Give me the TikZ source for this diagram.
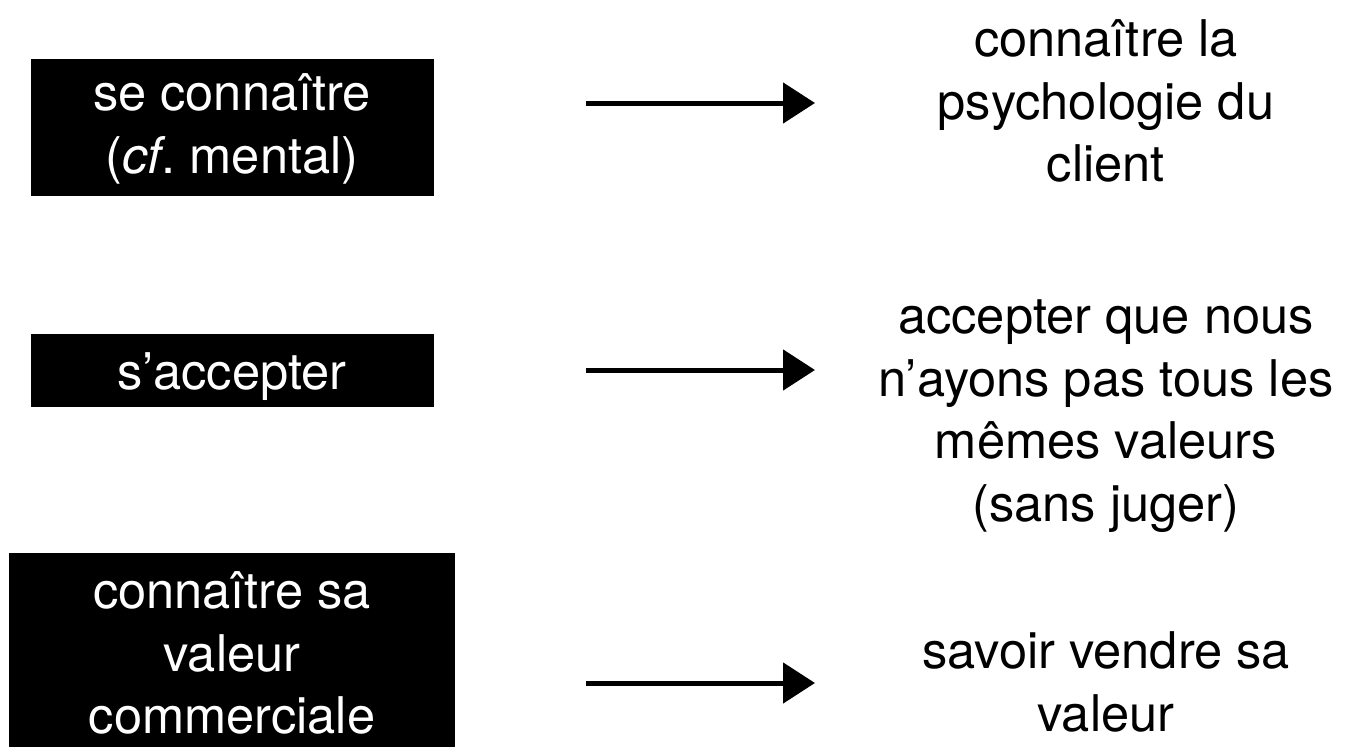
\documentclass[tikz,border=0pt]{standalone}
\usepackage{fontspec}
\setmainfont{TeX Gyre Heros}
\usetikzlibrary{shapes,arrows.meta,fit}

\begin{document}
\frenchspacing
\begin{tikzpicture}[x=0.02cm, y=-0.02cm, font=\fontsize{28.8pt}{35.6pt}\selectfont]
\tikzstyle{darkbox} = [fill=black, draw=none, inner sep=0pt]
\tikzstyle{boxtext} = [text=white, align=center, inner sep=0pt]
\tikzstyle{plaintext} = [text=black, align=center, inner sep=0pt]
\tikzstyle{flow} = [-{Triangle[length=0.64cm, width=0.8cm]}, line width=0.1cm]
\useasboundingbox (0,0) rectangle (1363,747);

\node [darkbox, fit={(31,59) (434,196)}] (b1) {};
\node [darkbox, fit={(31,334) (434,407)}] (b2) {};
\node [darkbox, fit={(9,553) (455,747)}] (b3) {};

\node [boxtext] (t1) at (232, 129) {se connaître\\(\textit{cf}. mental)};
\node [boxtext] (t2) at (232, 377) {s’accepter};
\node [boxtext] (t3) at (232, 653) {connaître sa\\valeur\\commerciale};

\node [plaintext] (r1) at (1106, 101) {connaître la\\psychologie du\\client};
\node [plaintext] (r2) at (1106, 416) {accepter que nous\\n’ayons pas tous les\\mêmes valeurs\\(sans juger)};
\node [plaintext] (r3) at (1106, 682) {savoir vendre sa\\valeur};

\coordinate (s1) at (586, 103);
\coordinate (e1) at (815, 103);
\coordinate (s2) at (586, 370);
\coordinate (e2) at (815, 370);
\coordinate (s3) at (586, 683);
\coordinate (e3) at (815, 683);
\draw [flow] (s1) -- (e1);
\draw [flow] (s2) -- (e2);
\draw [flow] (s3) -- (e3);
\end{tikzpicture}
\end{document}
